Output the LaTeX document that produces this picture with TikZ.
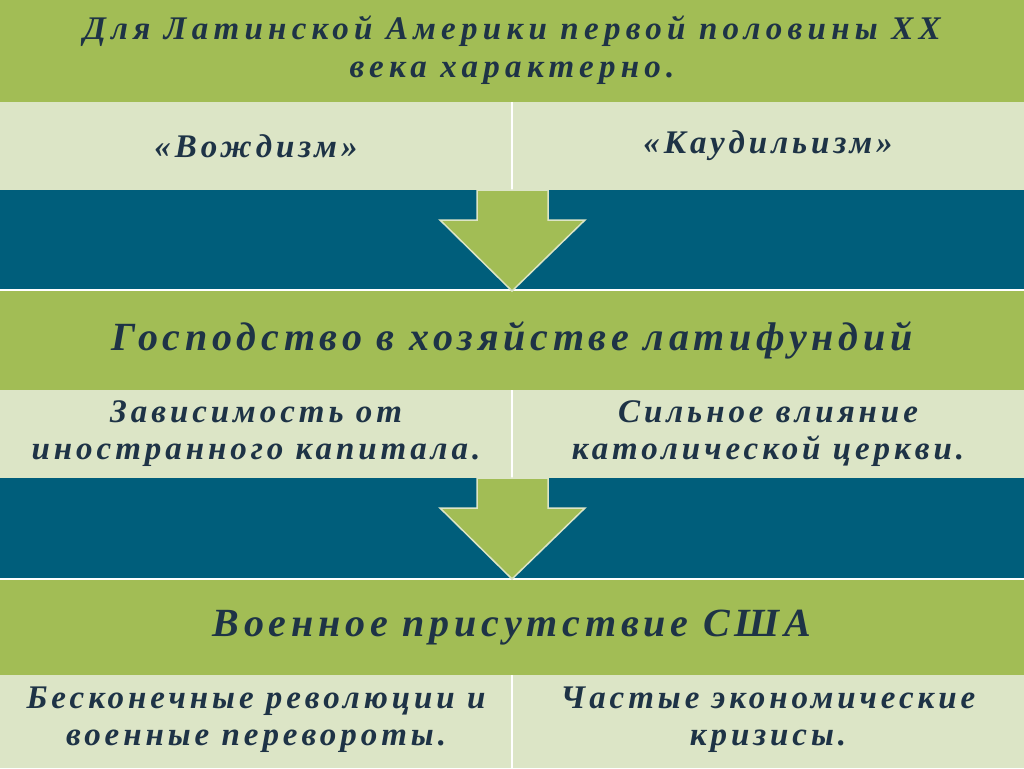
\documentclass[tikz,border=0pt]{standalone}
\usepackage{fontspec}
\setmainfont{Liberation Serif}
\newfontfamily\spacedfont[LetterSpace=12]{Liberation Serif}
\newfontfamily\widefont[LetterSpace=16]{Liberation Serif}
\usetikzlibrary{positioning}
\definecolor{bandgreen}{HTML}{A2BD55}
\definecolor{bandlight}{HTML}{DCE5C6}
\definecolor{bandteal}{HTML}{005E7B}
\definecolor{textnavy}{HTML}{1E3346}
\tikzset{
  bandtext/.style={text=textnavy, font=\spacedfont\fontsize{33}{37}\selectfont\bfseries\itshape, align=center},
  titletext/.style={text=textnavy, font=\widefont\fontsize{33}{38}\selectfont\bfseries\itshape, align=center},
  bigtext/.style={text=textnavy, font=\spacedfont\fontsize{40}{44}\selectfont\bfseries\itshape, align=center},
  downarrow/.style={fill=bandgreen, draw=bandlight, line width=1.5pt}
}
\begin{document}
\begin{tikzpicture}[x=1pt,y=-1pt]
\useasboundingbox (0,0) rectangle (1024,768);
% bands
\fill[bandgreen] (0,0) rectangle (1024,102);
\fill[bandlight] (0,102) rectangle (1024,190);
\fill[bandteal] (0,190) rectangle (1024,289);
\fill[bandgreen] (0,291) rectangle (1024,390);
\fill[bandlight] (0,390) rectangle (1024,478);
\fill[bandteal] (0,478) rectangle (1024,578);
\fill[bandgreen] (0,580) rectangle (1024,675);
\fill[bandlight] (0,675) rectangle (1024,768);
\draw[white, line width=2pt] (512,102) -- (512,190);
\draw[white, line width=2pt] (512,390) -- (512,478);
\draw[white, line width=2pt] (512,675) -- (512,768);
\draw[white, line width=2pt] (0,290) -- (1024,290) (0,579) -- (1024,579);
% arrows
\draw[downarrow] (477,190) -- (548,190) -- (548,220) -- (585,220) -- (512,291) -- (440,220) -- (477,220) -- cycle;
\draw[downarrow] (477,478) -- (548,478) -- (548,508) -- (585,508) -- (512,579) -- (440,508) -- (477,508) -- cycle;
% texts
\node[titletext] (title) at (512,50) {Для Латинской Америки первой половины XX\\века характерно.};
\node[bandtext] (vozhd) at (256,146) {«Вождизм»};
\node[bandtext] (kaud) at (768,146) {«Каудильизм»};
\node[bigtext] (lat) at (512,340) {Господство в хозяйстве латифундий};
\node[bandtext] (zav) at (256,434) {Зависимость от\\иностранного капитала.};
\node[bandtext] (church) at (768,434) {Сильное влияние\\католической церкви.};
\node[bigtext] (usa) at (512,628) {Военное присутствие США};
\node[bandtext] (rev) at (256,720) {Бесконечные революции и\\военные перевороты.};
\node[bandtext] (crisis) at (768,720) {Частые экономические\\кризисы.};
\end{tikzpicture}
\end{document}
